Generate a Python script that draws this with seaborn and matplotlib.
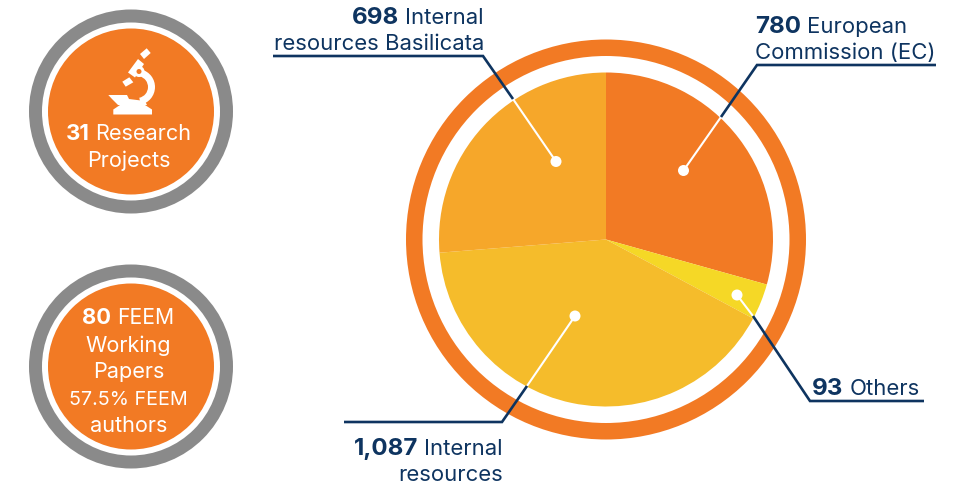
import matplotlib
matplotlib.use('Agg')
import matplotlib.pyplot as plt
from matplotlib.patches import Circle, Polygon, Wedge
import seaborn as sns

# funding sources, clockwise from 12 o'clock
sources = ['European Commission (EC)', 'Others', 'Internal resources', 'Internal resources Basilicata']
amounts = [780, 93, 1087, 698]
slice_colors = ['#F27A24', '#F5D826', '#F5BC2B', '#F6A72A']

projects = 31
papers = 80
feem_share = '57.5%'

ORANGE = '#F27A24'
GREY = '#8A8A8A'
NAVY = '#0E3460'

sns.set_theme(style='white')
plt.rcParams['font.family'] = ['Inter', 'DejaVu Sans']

fig = plt.figure(figsize=(9.56, 4.85), dpi=100)
ax = fig.add_axes([0, 0, 1, 1])

# main pie + ring, axes units are pixels
cx, cy = 606, 240.5
ax.add_patch(Circle((cx, cy), 200, color=ORANGE, lw=0))
ax.add_patch(Circle((cx, cy), 183.5, color='white', lw=0))
ax.pie(amounts, colors=sns.color_palette(slice_colors), center=(cx, cy), radius=167,
       startangle=-90, counterclock=True, wedgeprops={'linewidth': 0})

ax.set_xlim(0, 956)
ax.set_ylim(485, 0)
ax.set_aspect('auto')
ax.axis('off')


def badge(y):
    ax.add_patch(Circle((131, y), 102, color=GREY, lw=0))
    ax.add_patch(Circle((131, y), 89, color='white', lw=0))
    ax.add_patch(Circle((131, y), 83, color=ORANGE, lw=0))


badge(112.5)
badge(367.5)

# microscope icon
for pts in [
    [(140, 55), (146.7, 49.3), (150.7, 54), (144, 60)],
    [(128, 73.5), (138, 60), (144, 65), (135, 78.5)],
    [(122.3, 82.7), (129.3, 78.3), (133.3, 83.3), (125.7, 87.7)],
    [(108.3, 96), (127, 96), (129, 100), (145, 102), (147, 106), (118, 106), (112, 100)],
    [(113.3, 115.5), (152, 115.5), (152, 110.5), (145, 106), (120, 106), (113.3, 110.5)],
]:
    ax.add_patch(Polygon(pts, closed=True, color='white', lw=0))
ax.add_patch(Wedge((137, 88), 18, -75, 78, width=7, color='white', lw=0))
ax.add_patch(Circle((139, 72.5), 5.5, color='white', lw=0))
ax.add_patch(Circle((139, 72.5), 2.5, color=ORANGE, lw=0))

SIZE = 15.9
BSIZE = 17.4
INNER = 15.6


def mixed_text(x, y, number, rest, color, ha='left', size=SIZE, bsize=BSIZE):
    # bold figure followed by regular text on one baseline
    rend = fig.canvas.get_renderer()
    a = ax.text(x, y, number, color=color, fontsize=bsize, fontweight='bold', va='baseline', ha='left')
    b = ax.text(x, y, rest, color=color, fontsize=size, va='baseline', ha='left')
    wa = a.get_window_extent(rend).width + 6
    wb = b.get_window_extent(rend).width
    if ha == 'right':
        start = x - wa - wb
    elif ha == 'center':
        start = x - (wa + wb) / 2
    else:
        start = x
    a.set_x(start)
    b.set_x(start + wa)


W = '#FFFFFF'
mixed_text(128.5, 140, str(projects), 'Research', W, ha='center', size=INNER, bsize=16)
ax.text(128.5, 167.5, 'Projects', color=W, fontsize=INNER, ha='center', va='baseline')
mixed_text(128.5, 324.5, str(papers), 'FEEM', W, ha='center', size=15.2, bsize=15.8)
ax.text(128.5, 352.5, 'Working', color=W, fontsize=INNER, ha='center', va='baseline')
ax.text(128.5, 378.5, 'Papers', color=W, fontsize=INNER, ha='center', va='baseline')
ax.text(128.5, 405, feem_share + ' FEEM', color=W, fontsize=14.2, ha='center', va='baseline')
ax.text(128.5, 432.5, 'authors', color=W, fontsize=INNER, ha='center', va='baseline')


def callout(dot, brk, elbow, end):
    ax.plot([dot[0], brk[0]], [dot[1], brk[1]], color='white', lw=1.5, solid_capstyle='butt')
    ax.plot([brk[0], elbow[0], end], [brk[1], elbow[1], elbow[1]], color=NAVY, lw=1.9,
            solid_capstyle='butt', solid_joinstyle='miter')
    ax.add_patch(Circle(dot, 5.5, color='white', lw=0, zorder=4))


callout((683.5, 171.5), (721, 118), (757, 66), 936)
callout((737, 296), (753, 317), (810, 402), 924)
callout((575, 317), (527, 387), (502, 423), 344)
callout((556, 162.5), (513, 100), (483, 57), 273)

mixed_text(755, 33, f'{amounts[0]:,}', 'European', NAVY)
ax.text(755, 59, 'Commission (EC)', color=NAVY, fontsize=SIZE, va='baseline')
mixed_text(812, 395, f'{amounts[1]:,}', 'Others', NAVY)
mixed_text(503, 455, f'{amounts[2]:,}', 'Internal', NAVY, ha='right')
ax.text(503, 481, 'resources', color=NAVY, fontsize=SIZE, ha='right', va='baseline')
mixed_text(484, 23.5, f'{amounts[3]:,}', 'Internal', NAVY, ha='right')
ax.text(484, 50, 'resources Basilicata', color=NAVY, fontsize=SIZE, ha='right', va='baseline')

fig.savefig('out.png', dpi=100)
plt.close(fig)
